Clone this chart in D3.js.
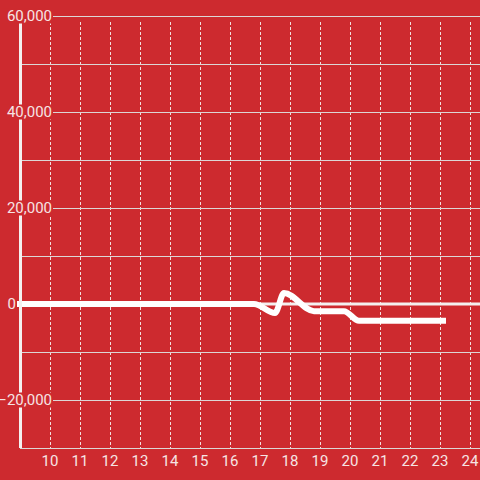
<!DOCTYPE html>
<html>
<head>
<meta charset="utf-8">
<script src="https://cdn.jsdelivr.net/npm/d3@7"></script>
<style>
  html, body { margin: 0; padding: 0; background: #cd2a2f; }
  svg { display: block; font-family: Roboto, sans-serif; }
  .lbl { fill: #f6e4e4; font-size: 15px; }
</style>
</head>
<body>
<div id="chart"></div>
<script>
// hour of day vs. running value
const hours = [9, 16.8, 17.5, 17.8, 18.8, 19.8, 20.3, 23.1];
const values = [0, 0, -1900, 2300, -1500, -1500, -3500, -3500];

const xTicks = [10, 11, 12, 13, 14, 15, 16, 17, 18, 19, 20, 21, 22, 23, 24];
const yLabelTicks = [-20000, 0, 20000, 40000, 60000];
const yGridTicks = [-20000, -10000, 10000, 20000, 30000, 40000, 50000, 60000];

const width = 480, height = 480;
const margin = { top: 16, left: 20, bottom: 448 };

const svg = d3.select('#chart').append('svg')
  .attr('width', width)
  .attr('height', height);

const x = d3.scaleLinear().domain([9, 24 + 1 / 3]).range([margin.left, width]);
const y = d3.scaleLinear().domain([-30000, 60000]).range([margin.bottom, margin.top]);

// vertical dotted grid
svg.append('g').selectAll('line')
  .data(xTicks)
  .enter().append('line')
  .attr('x1', d => Math.round(x(d)) + 0.5)
  .attr('x2', d => Math.round(x(d)) + 0.5)
  .attr('y1', margin.top + 6)
  .attr('y2', margin.bottom)
  .attr('stroke', '#f2dede')
  .attr('stroke-width', 1)
  .attr('stroke-dasharray', '3,2');

// horizontal grid
svg.append('g').selectAll('line')
  .data(yGridTicks)
  .enter().append('line')
  .attr('x1', margin.left)
  .attr('x2', width)
  .attr('y1', d => Math.round(y(d)) + 0.5)
  .attr('y2', d => Math.round(y(d)) + 0.5)
  .attr('stroke', '#dcd6d6')
  .attr('stroke-width', 1);

// bottom axis line
svg.append('line')
  .attr('x1', margin.left).attr('x2', width)
  .attr('y1', margin.bottom + 0.5).attr('y2', margin.bottom + 0.5)
  .attr('stroke', '#dcd6d6');

// zero line
svg.append('line')
  .attr('x1', margin.left).attr('x2', width)
  .attr('y1', y(0)).attr('y2', y(0))
  .attr('stroke', '#f4f0f0')
  .attr('stroke-width', 3);

// data line
const line = d3.line()
  .x((d, i) => x(hours[i]))
  .y(d => y(d))
  .curve(d3.curveMonotoneX);

svg.append('path')
  .datum(values)
  .attr('d', line)
  .attr('fill', 'none')
  .attr('stroke', '#ffffff')
  .attr('stroke-width', 6)
  .attr('stroke-linecap', 'square')
  .attr('stroke-linejoin', 'round');

// y axis line
svg.append('line')
  .attr('x1', margin.left + 0.5).attr('x2', margin.left + 0.5)
  .attr('y1', margin.top).attr('y2', margin.bottom)
  .attr('stroke', '#f4f0f0')
  .attr('stroke-width', 3);

// y labels with background boxes
const yLab = svg.append('g').selectAll('g')
  .data(yLabelTicks)
  .enter().append('g')
  .attr('transform', d => 'translate(0,' + y(d) + ')');

yLab.filter(d => d !== 0).append('rect')
  .attr('x', 2)
  .attr('y', -7.5)
  .attr('width', 51)
  .attr('height', 15)
  .attr('fill', '#cd2a2f');

yLab.append('text')
  .attr('class', 'lbl')
  .attr('x', d => d === 0 ? 16 : 52)
  .attr('dy', '0.35em')
  .attr('text-anchor', 'end')
  .text(d => d3.format(',')(d));

// x labels
svg.append('g').selectAll('text')
  .data(xTicks)
  .enter().append('text')
  .attr('class', 'lbl')
  .attr('x', d => x(d))
  .attr('y', 466)
  .attr('text-anchor', 'middle')
  .text(d => d);
</script>
</body>
</html>
